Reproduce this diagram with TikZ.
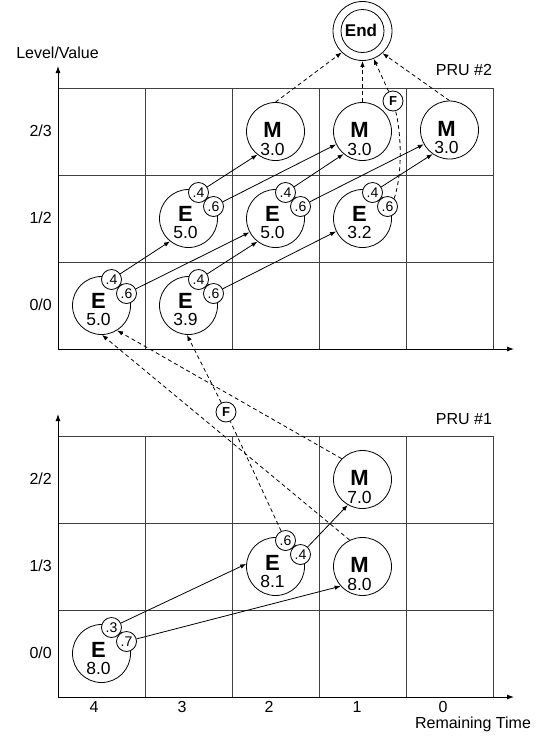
\documentclass[tikz,border=0pt]{standalone}
\usepackage{fontspec}
\setmainfont{Liberation Sans}
\usetikzlibrary{arrows.meta,calc}
\tikzset{
  bigc/.style={circle, draw, line width=0.8pt, minimum size=58pt, inner sep=0pt},
  smallc/.style={circle, draw, fill=white, line width=0.8pt, minimum size=20pt, inner sep=0pt, font=\fontsize{14}{14}\selectfont},
  fc/.style={circle, draw, fill=white, line width=0.8pt, minimum size=20pt, inner sep=0pt, font=\fontsize{13}{13}\selectfont\bfseries},
  lett/.style={anchor=base, inner sep=0pt, font=\fontsize{22}{22}\selectfont\bfseries},
  valt/.style={anchor=base, inner sep=0pt, font=\fontsize{17.5}{17.5}\selectfont},
  lab/.style={anchor=base, inner sep=0pt, font=\fontsize{16}{16}\selectfont},
  gridl/.style={line width=0.9pt, black!75},
  axisl/.style={line width=0.9pt, -{Latex[length=7pt,width=5pt]}},
  arr/.style={line width=0.8pt, -{Latex[length=6pt,width=4.5pt]}},
  dln/.style={line width=0.8pt, dash pattern=on 4pt off 3pt},
  darr/.style={arr, dash pattern=on 4pt off 3pt},
}
% name, x, y, letter, value, letter baseline offset, value baseline offset
\newcommand{\stnode}[7]{%
  \node[bigc] (#1) at (#2,#3) {};
  \node[lett] (#1l) at ($(#1)+(-3,#6)$) {#4};
  \node[valt] (#1v) at ($(#1)+(-3,#7)$) {#5};
}
\newcommand{\probs}[3]{%
  \node[smallc] (#1a) at ($(#1)+(10,-26)$) {#2};
  \node[smallc] (#1b) at ($(#1)+(25,-12)$) {#3};
}
\begin{document}
\begin{tikzpicture}[x=1pt,y=-1pt]
\useasboundingbox (0,0) rectangle (537,740);

% ---------- upper grid (PRU #2)
\draw[gridl] (58,88) -- (493,88) -- (493,349);
\foreach \xx in {145,232,319,406} \draw[gridl] (\xx,88) -- (\xx,349);
\foreach \yy in {175,262} \draw[gridl] (58,\yy) -- (493,\yy);
\draw[axisl] (58,349) -- (58,66);
\draw[axisl] (58,349) -- (514,349);

% ---------- lower grid (PRU #1)
\draw[gridl] (58,436) -- (493,436) -- (493,697);
\foreach \xx in {145,232,319,406} \draw[gridl] (\xx,436) -- (\xx,697);
\foreach \yy in {523,610} \draw[gridl] (58,\yy) -- (493,\yy);
\draw[axisl] (58,697) -- (58,414);
\draw[axisl] (58,697) -- (514,697);

% ---------- labels
\node[lab] (lv) at (57.5,58) {Level/Value};
\node[lab] (pru2) at (464,75.7) {PRU \#2};
\node[lab] (pru1) at (464,424) {PRU \#1};
\node[lab, anchor=base east] (r23) at (52,136) {2/3};
\node[lab, anchor=base east] (r12) at (52,223) {1/2};
\node[lab, anchor=base east] (r00a) at (52,310) {0/0};
\node[lab, anchor=base east] (r22) at (52,484) {2/2};
\node[lab, anchor=base east] (r13) at (52,571) {1/3};
\node[lab, anchor=base east] (r00b) at (52,658) {0/0};
\node[lab] (c4) at (94,712) {4};
\node[lab] (c3) at (182,712) {3};
\node[lab] (c2) at (269,712) {2};
\node[lab] (c1) at (357,712) {1};
\node[lab] (c0) at (443,712) {0};
\node[lab] (rt) at (473,728.5) {Remaining Time};

% ---------- upper states
\stnode{a40}{101.5}{305.5}{E}{5.0}{2.5}{20}
\stnode{a30}{188.5}{305.5}{E}{3.9}{2.5}{20}
\stnode{a31}{188.5}{218.5}{E}{5.0}{2.5}{20}
\stnode{a21}{275.5}{218.5}{E}{5.0}{2.5}{20}
\stnode{a11}{362.5}{218.5}{E}{3.2}{2.5}{20}
\stnode{a22}{275.5}{131.5}{M}{3.0}{6}{23.5}
\stnode{a12}{362.5}{131.5}{M}{3.0}{6}{23.5}
\stnode{a02}{449.5}{130}{M}{3.0}{6}{23.5}
\probs{a40}{.4}{.6}
\probs{a30}{.4}{.6}
\probs{a31}{.4}{.6}
\probs{a21}{.4}{.6}
\probs{a11}{.4}{.6}

% End node
\node[circle, draw, line width=0.8pt, minimum size=59pt, inner sep=0pt] (end) at (362.5,31) {};
\node[circle, draw, line width=0.8pt, minimum size=43pt, inner sep=0pt] (endi) at (362.5,31) {};
\node[anchor=base, inner sep=0pt, font=\fontsize{17}{17}\selectfont\bfseries] (endt) at (361,36) {End};
\node[fc] (f2) at (393,101) {F};

% ---------- lower states
\stnode{b40}{101.5}{653.5}{E}{8.0}{3.5}{20.5}
\stnode{b21}{275.5}{566.5}{E}{8.1}{3.5}{20.5}
\stnode{b12}{362.5}{479.5}{M}{7.0}{6}{23.5}
\stnode{b11}{362.5}{566.5}{M}{8.0}{6}{23.5}
\probs{b40}{.3}{.7}
\probs{b21}{.6}{.4}
\node[fc] (f1) at (226,412) {F};

% ---------- solid transitions
\draw[arr] (a40a) -- (a31.231);
\draw[arr] (a40b) -- (a21.208);
\draw[arr] (a30a) -- (a21.232);
\draw[arr] (a30b) -- (a11.206);
\draw[arr] (a31a) -- (a22.232);
\draw[arr] (a31b) -- (a12.206);
\draw[arr] (a21a) -- (a12.230);
\draw[arr] (a21b) -- (a02.209);
\draw[arr] (a11a) -- (a02.235);
\draw[arr] (b40a) -- (b21.175);
\draw[arr] (b40b) -- (b11.222);
\draw[arr] (b21b) -- (b12.240);

% ---------- dashed transitions
\draw[darr] (a22.north) -- (end.226);
\draw[darr] (a12.north) -- (end.south);
\draw[darr] (a02.north) -- (end.312);
\draw[dln] (a11b.50) .. controls (403,172) and (401,132) .. (f2);
\draw[darr] (f2) -- (end.292);
\draw[darr] (b12.135) -- (a40.302);
\draw[darr] (b11.116) -- (a40.271);
\draw[dln] (b21a) -- (f1);
\draw[darr] (f1) -- (a30.267);
\end{tikzpicture}
\end{document}
